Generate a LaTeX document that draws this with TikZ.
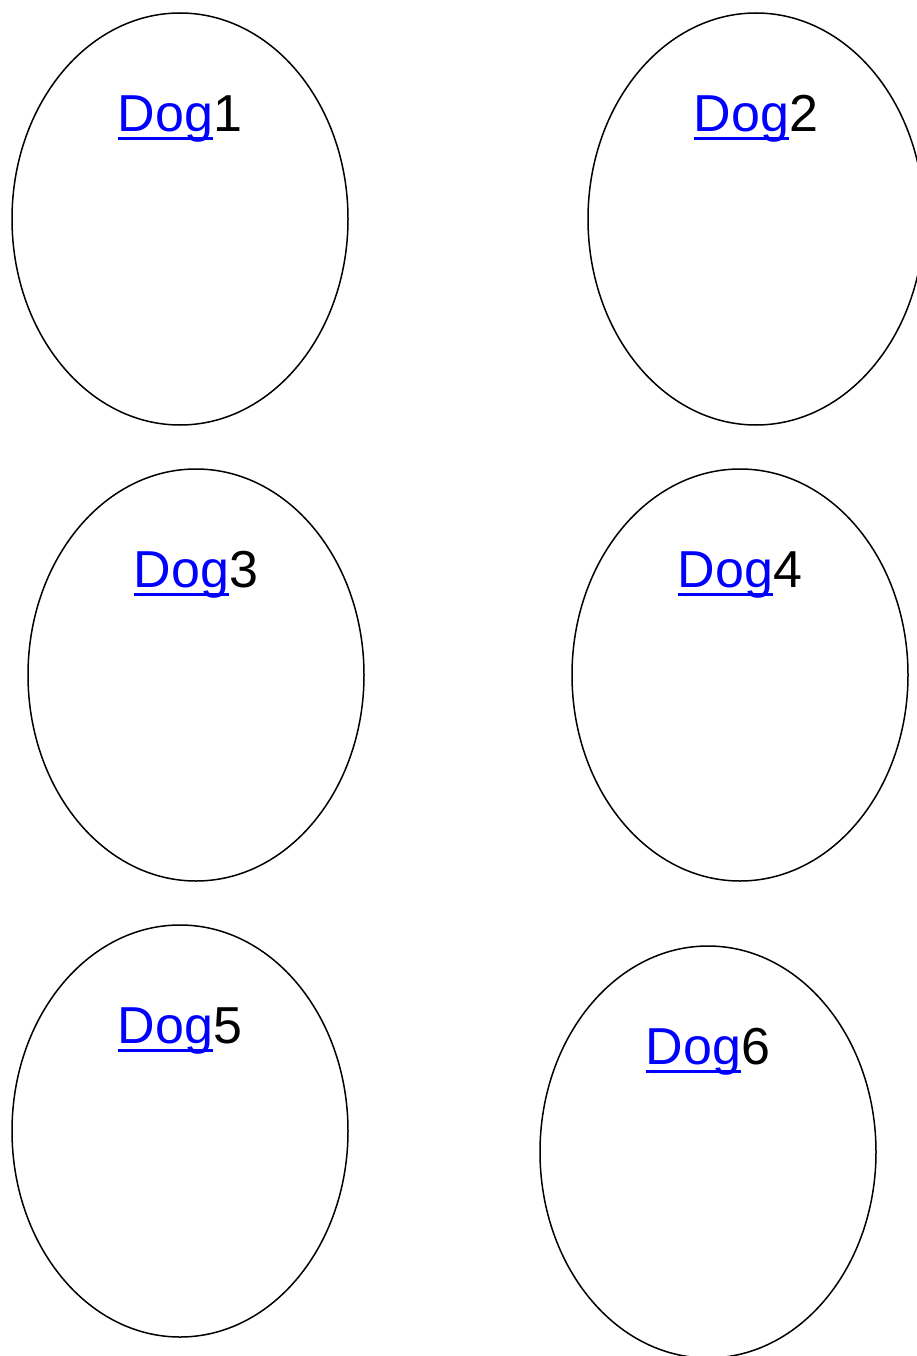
\documentclass[tikz,border=0pt]{standalone}
\usepackage{fontspec}
\setmainfont{Liberation Sans}
\usepackage{xcolor}
\usepackage{tikz}
\usetikzlibrary{shapes.geometric, calc}
\newcommand{\dogword}{\textcolor{blue}{\setbox0\hbox{Dog}\rlap{\rule[-9pt]{\wd0}{3.5pt}}\box0}}
\tikzset{
  dog/.style={ellipse, draw, line width=1.5pt, inner sep=0pt,
              minimum width=336pt, minimum height=412pt},
  tag/.style={font=\fontsize{52}{60}\selectfont, anchor=base, inner sep=0pt},
}

\begin{document}
\begin{tikzpicture}[x=1pt, y=-1pt]
  \useasboundingbox (0,0) rectangle (916,1356);
  \node[dog] (d1) at (180,219)  {};
  \node[dog] (d2) at (756,219)  {};
  \node[dog] (d3) at (196,675)  {};
  \node[dog] (d4) at (740,675)  {};
  \node[dog] (d5) at (180,1131) {};
  \node[dog] (d6) at (708,1152) {};
  \node[tag] (t1) at ($(d1.north)+(0,119)$) {\dogword 1};
  \node[tag] (t2) at ($(d2.north)+(0,119)$) {\dogword 2};
  \node[tag] (t3) at ($(d3.north)+(0,119)$) {\dogword 3};
  \node[tag] (t4) at ($(d4.north)+(0,119)$) {\dogword 4};
  \node[tag] (t5) at ($(d5.north)+(0,119)$) {\dogword 5};
  \node[tag] (t6) at ($(d6.north)+(0,119)$) {\dogword 6};
\end{tikzpicture}
\end{document}
